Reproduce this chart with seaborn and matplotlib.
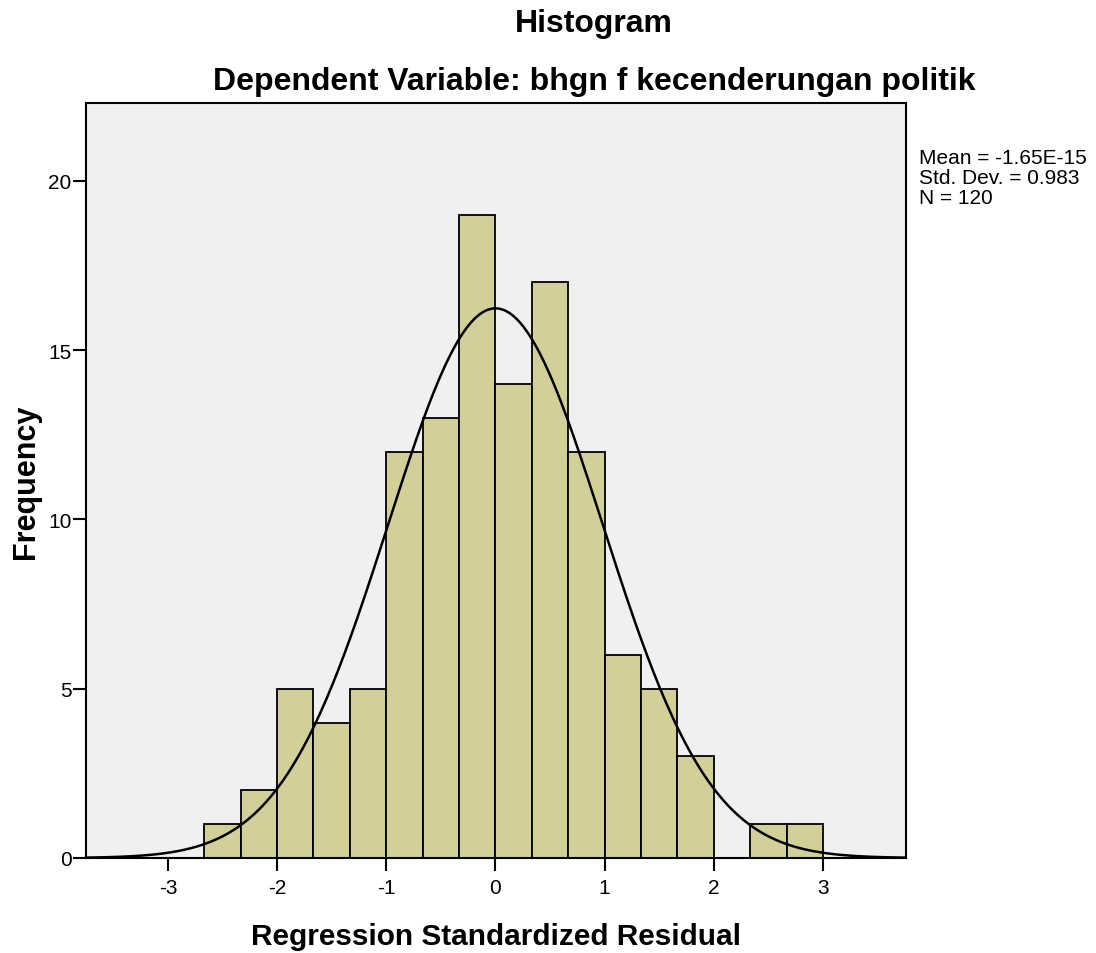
import numpy as np
import pandas as pd
import matplotlib
matplotlib.use("Agg")
import matplotlib.pyplot as plt
import seaborn as sns

# Regression standardized residuals, binned
bin_lefts = [-8/3, -7/3, -2.0, -5/3, -4/3, -1.0, -2/3, -1/3, 0.0,
             1/3, 2/3, 1.0, 4/3, 5/3, 2.0, 7/3, 8/3]
counts = [1, 2, 5, 4, 5, 12, 13, 19, 14, 17, 12, 6, 5, 3, 0, 1, 1]
bin_width = 1/3

mean_val = -1.65e-15
std_val = 0.983
n_obs = 120

x_ticks = [-3, -2, -1, 0, 1, 2, 3]
y_ticks = [0, 5, 10, 15, 20]

sns.set_theme(style="white")
plt.rcParams['font.family'] = ['Liberation Sans', 'DejaVu Sans']
plt.rcParams['text.color'] = 'black'
plt.rcParams['axes.labelcolor'] = 'black'
plt.rcParams['axes.unicode_minus'] = False

df = pd.DataFrame({"center": np.array(bin_lefts) + bin_width / 2,
                   "count": counts})
edges = list(bin_lefts) + [bin_lefts[-1] + bin_width]

fig = plt.figure(figsize=(10.96, 9.54), dpi=100)
ax = fig.add_axes([0.0785, 0.0996, 0.7481, 0.7914])
ax.set_facecolor("#F0F0F0")

sns.histplot(data=df, x="center", weights="count", bins=edges, ax=ax,
             color="#D3CF99", alpha=1.0, edgecolor="black", linewidth=1.3)

# Fitted normal curve
xs = np.linspace(-3.75, 3.76, 400)
ys = n_obs * bin_width * np.exp(-0.5 * ((xs - mean_val) / std_val) ** 2) / (std_val * np.sqrt(2 * np.pi))
sns.lineplot(x=xs, y=ys, ax=ax, color="black", linewidth=1.8)

ax.set_xlim(-3.75, 3.76)
ax.set_ylim(0, 22.3)
ax.set_xticks(x_ticks)
ax.set_yticks(y_ticks)
ax.tick_params(axis="both", direction="out", length=9.5, width=1.5,
               labelsize=15, colors="black", bottom=True, left=True)
ax.tick_params(axis="y", pad=1)
ax.tick_params(axis="x", pad=5)
for s in ax.spines.values():
    s.set_color("black")
    s.set_linewidth(1.5)

ax.set_xlabel("Regression Standardized Residual", fontsize=21.4, fontweight="bold", labelpad=18)
ax.set_ylabel("Frequency", fontsize=22, fontweight="bold", labelpad=5)

fig.text(0.542, 0.975, "Histogram", ha="center", va="center",
         fontsize=23, fontweight="bold")
fig.text(0.542, 0.914, "Dependent Variable: bhgn f kecenderungan politik",
         ha="center", va="center", fontsize=23, fontweight="bold")

fig.text(0.8385, 0.813, "Mean = -1.65E-15\nStd. Dev. = 0.983\nN = 120",
         ha="left", va="center", fontsize=15, linespacing=1.05)

fig.savefig("out.png", dpi=100)
